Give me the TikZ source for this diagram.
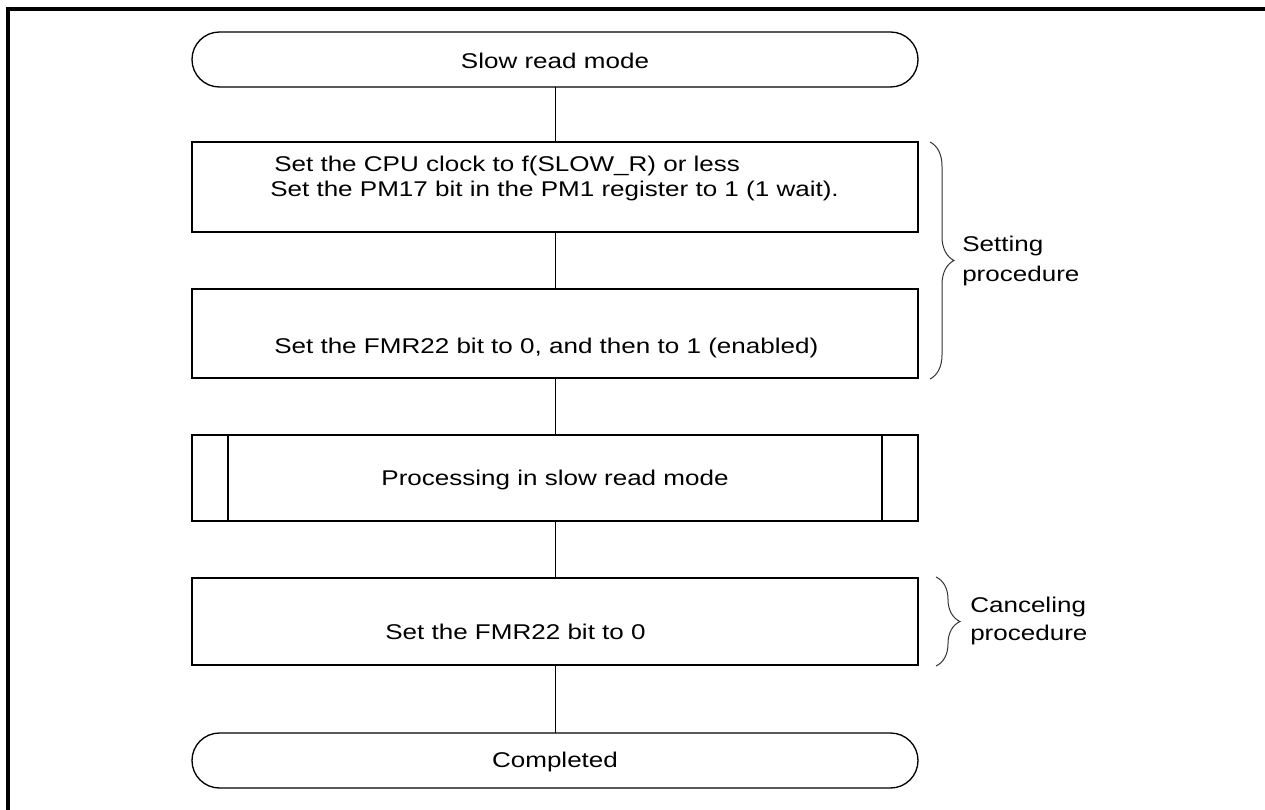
\documentclass[tikz,border=0pt]{standalone}
\usepackage{fontspec}
\setmainfont{Liberation Sans}[FakeStretch=1.22]
\usetikzlibrary{decorations.pathreplacing}
\tikzset{stepbox/.style={rectangle,draw,line width=1pt,inner sep=0pt,outer sep=0pt,minimum width=544.5pt},
  termbox/.style={stepbox,rounded corners=20.6pt,minimum height=41.25pt},
  steptext/.style={inner sep=0pt,font=\fontsize{16}{18.75}\selectfont},
  bracemark/.style={decorate,decoration={brace,amplitude=18pt},line width=0.75pt,black!80}}

\begin{document}
\begin{tikzpicture}[x=0.75pt,y=-0.75pt]
\useasboundingbox (0,0) rectangle (1265,810);

% frame
\draw [line width=2.6pt] (8,830) -- (8,8.8) -- (1290,8.8);

% nodes
\node [termbox] (start) at (555,59.5) {};
\node [stepbox, minimum height=67.5pt] (clock) at (555,187) {};
\node [stepbox, minimum height=66.75pt] (enable) at (555,333.5) {};
\node [stepbox, minimum height=64.5pt] (proc) at (555,478) {};
\node [stepbox, minimum height=65.25pt] (cancel) at (555,621.5) {};
\node [termbox] (done) at (555,760.5) {};

% texts
\node [steptext, anchor=base west] (clocka) at (274,171) {Set the CPU clock to f(SLOW\_R) or less};
\node [steptext, anchor=base west] (clockb) at (270,196) {Set the PM17 bit in the PM1 register to 1 (1 wait).};
\node [steptext, anchor=base] (starttxt) at (555,68) {Slow read mode};
\node [steptext, anchor=base west] (enabletxt) at (274,353) {Set the FMR22 bit to 0, and then to 1 (enabled)};
\node [steptext, anchor=base] (proctxt) at (555,485.5) {Processing in slow read mode};
\node [steptext, anchor=base west] (canceltxt) at (385,639) {Set the FMR22 bit to 0};
\node [steptext, anchor=base] (donetxt) at (555,767) {Completed};

% predefined process sides
\draw [line width=1pt] ([xshift=27pt]proc.north west) -- ([xshift=27pt]proc.south west);
\draw [line width=1pt] ([xshift=-27pt]proc.north east) -- ([xshift=-27pt]proc.south east);

%  edges
\draw [line width=0.75pt] (start) -- (clock);
\draw [line width=0.75pt] (clock) -- (enable);
\draw [line width=0.75pt] (enable) -- (proc);
\draw [line width=0.75pt] (proc) -- (cancel);
\draw [line width=0.75pt] (cancel) -- (done);

% braces
\coordinate (settop) at (930,142);
\coordinate (setbot) at (930,379);
\coordinate (cantop) at (936,577);
\coordinate (canbot) at (936,666);
\draw [bracemark] (settop) -- (setbot);
\draw [bracemark] (cantop) -- (canbot);
\node [steptext, anchor=base west] (seta) at (962,251.7) {Setting};
\node [steptext, anchor=base west] (setb) at (962,281.7) {procedure};
\node [steptext, anchor=base west] (cana) at (970,612.7) {Canceling};
\node [steptext, anchor=base west] (canb) at (970,640) {procedure};
\end{tikzpicture}
\end{document}
